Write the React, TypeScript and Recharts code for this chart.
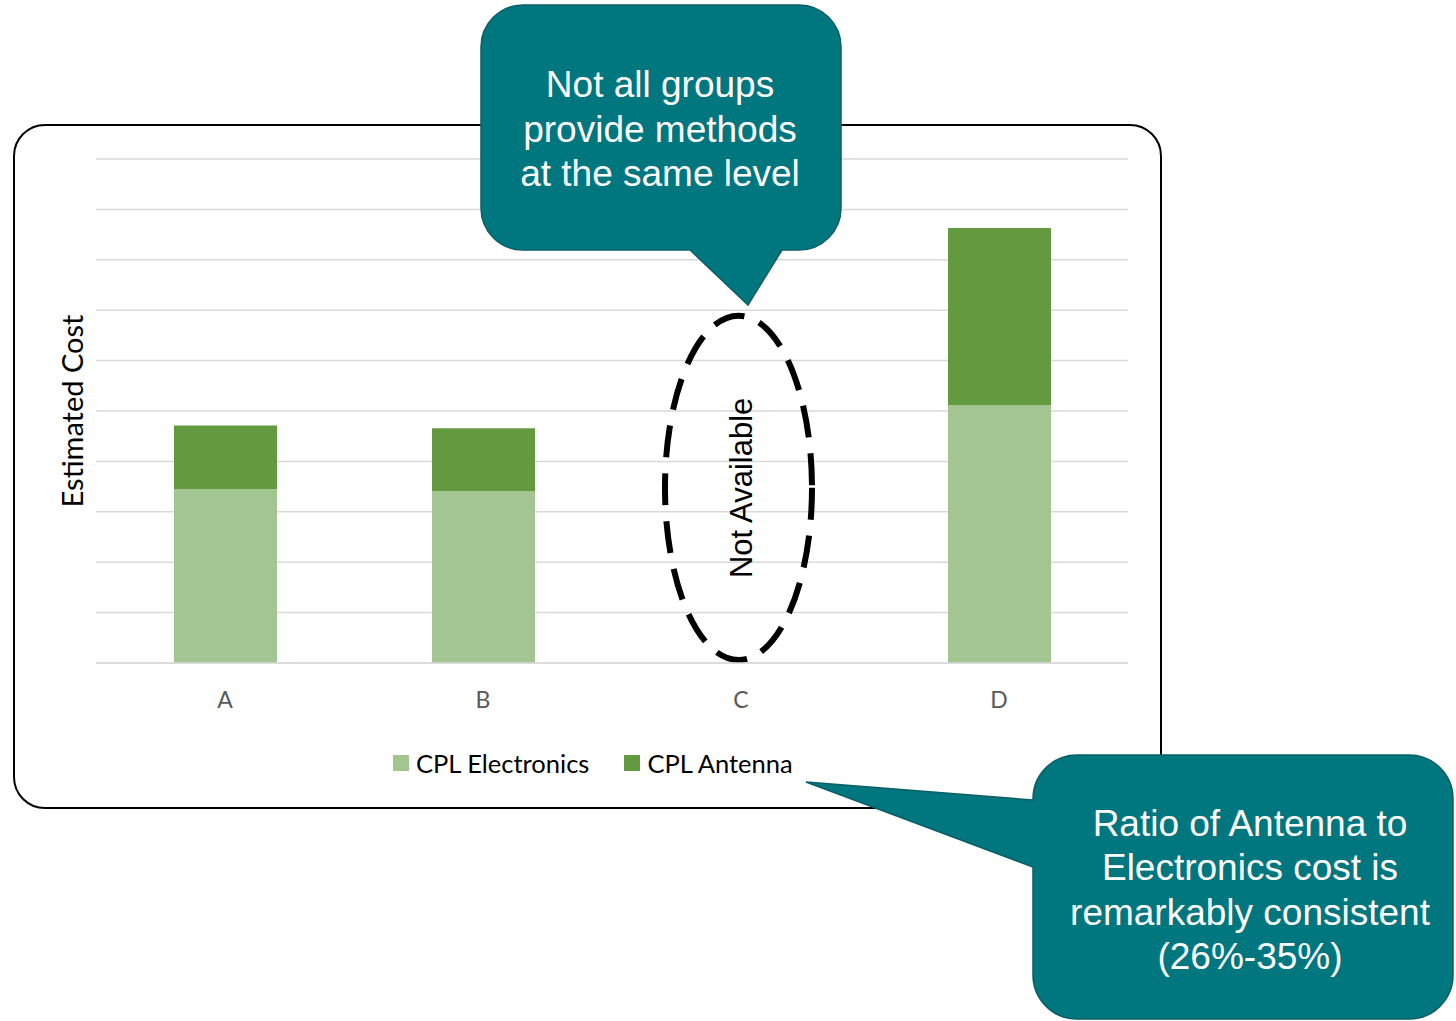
import React from 'react';
import {
  BarChart,
  Bar,
  XAxis,
  YAxis,
  CartesianGrid,
  Legend,
  ReferenceArea,
} from 'recharts';

const groups = ['A', 'B', 'C', 'D'];
const electronicsCost = [3.45, 3.41, null, 5.12];
const antennaCost = [1.26, 1.25, null, 3.51];
const costTicks = [0, 1, 2, 3, 4, 5, 6, 7, 8, 9, 10];
const seriesNames = ['CPL Electronics', 'CPL Antenna'];

// group C has no estimate; the dashed ring spans this cost range
const missingGroup = 'C';
const missingRange = [0, 6.95];

const topNote = ['Not all groups', 'provide methods', 'at the same level'];
const sideNote = ['Ratio of Antenna to', 'Electronics cost is', 'remarkably consistent', '(26%-35%)'];

const data = groups.map((group, i) => ({
  group,
  electronics: electronicsCost[i],
  antenna: antennaCost[i],
}));

const W = 1456;
const H = 1021;
const TEAL = '#00767f';
const LIGHT = '#a3c592';
const DARK = '#639a3f';
const LABEL_FONT = 'Lato, "Open Sans", sans-serif';
const NOTE_FONT = '"Liberation Sans", Arial, sans-serif';

// rounded box with a pointer; the tail leaves the box edge between two points
function calloutPath(x0: number, y0: number, x1: number, y1: number, r: number, tail: string, side: 'bottom' | 'left') {
  const parts = [`M${x0 + r},${y0}`, `H${x1 - r}`, `A${r},${r} 0 0 1 ${x1},${y0 + r}`, `V${y1 - r}`, `A${r},${r} 0 0 1 ${x1 - r},${y1}`];
  if (side === 'bottom') parts.push(tail);
  parts.push(`H${x0 + r}`, `A${r},${r} 0 0 1 ${x0},${y1 - r}`);
  if (side === 'left') parts.push(tail);
  parts.push(`V${y0 + r}`, `A${r},${r} 0 0 1 ${x0 + r},${y0}`, 'Z');
  return parts.join(' ');
}

// y ticks stay in place for the grid but print nothing
const NoTick = () => <g />;

const MissingMark = (props: any) => {
  const { x, y, width, height } = props;
  const cx = x + width / 2 - 2.5;
  const cy = y + height / 2;
  return (
    <g>
      <ellipse
        cx={cx}
        cy={cy}
        rx={73.5}
        ry={height / 2 - 3}
        fill="none"
        stroke="#000"
        strokeWidth={6}
        strokeDasharray="32 16"
      />
      <text
        x={cx + 14}
        y={cy}
        transform={`rotate(-90, ${cx + 14}, ${cy})`}
        textAnchor="middle"
        fontFamily={NOTE_FONT}
        fontSize={31}
        fill="#000"
      >
        Not Available
      </text>
    </g>
  );
};

const LegendContent = (props: any) => {
  const items = [...(props.payload || [])].sort(
    (a: any, b: any) => seriesNames.indexOf(a.value) - seriesNames.indexOf(b.value)
  );
  return (
    <div style={{ display: 'flex', fontFamily: LABEL_FONT, fontSize: 25.5, color: '#000', whiteSpace: 'nowrap' }}>
      {items.map((p: any) => (
        <div key={p.value} style={{ display: 'flex', alignItems: 'center', marginRight: 35 }}>
          <span style={{ width: 16, height: 16, background: p.color, marginRight: 7, display: 'inline-block' }} />
          <span>{p.value}</span>
        </div>
      ))}
    </div>
  );
};

export default function App() {
  return (
    <div style={{ position: 'absolute', left: 0, top: 0, width: W, height: H, background: '#fff', overflow: 'hidden' }}>
      <div
        style={{
          position: 'absolute',
          left: 13,
          top: 124,
          width: 1149,
          height: 685,
          boxSizing: 'border-box',
          border: '2px solid #000',
          borderRadius: 32,
        }}
      />
      <div style={{ position: 'absolute', left: 0, top: 0 }}>
        <BarChart width={W} height={H} data={data} margin={{ top: 159, right: 328, bottom: 328, left: 50 }}>
          <CartesianGrid vertical={false} stroke="#d9d9d9" strokeWidth={1.5} />
          <XAxis
            dataKey="group"
            tickLine={false}
            axisLine={{ stroke: '#d9d9d9', strokeWidth: 1.5 }}
            tickMargin={23}
            tick={{ fill: '#595959', fontSize: 23, fontFamily: LABEL_FONT }}
          />
          <YAxis
            width={46}
            domain={[0, 10]}
            ticks={costTicks}
            interval={0}
            tick={<NoTick />}
            axisLine={false}
            tickLine={false}
            label={{
              value: 'Estimated Cost',
              angle: -90,
              position: 'center',
              fill: '#000',
              fontSize: 29,
              fontFamily: LABEL_FONT,
            }}
          />
          <Legend
            layout="horizontal"
            verticalAlign="middle"
            align="center"
            content={<LegendContent />}
            wrapperStyle={{ left: 393, top: 748, width: 'auto' }}
          />
          <Bar dataKey="electronics" name={seriesNames[0]} stackId="cost" fill={LIGHT} barSize={103} isAnimationActive={false} />
          <Bar dataKey="antenna" name={seriesNames[1]} stackId="cost" fill={DARK} barSize={103} isAnimationActive={false} />
          <ReferenceArea
            x1={missingGroup}
            x2={missingGroup}
            y1={missingRange[0]}
            y2={missingRange[1]}
            shape={<MissingMark />}
          />
        </BarChart>
      </div>
      <svg width={W} height={H} style={{ position: 'absolute', left: 0, top: 0, pointerEvents: 'none' }}>
        <path
          d={calloutPath(481, 5, 841, 250, 42, 'H782 L748,305 L690,250', 'bottom')}
          fill={TEAL}
          stroke="#0a5f66"
          strokeWidth={1.5}
        />
        <text fontFamily={NOTE_FONT} fontSize={37} fill="#fff" textAnchor="middle">
          {topNote.map((line, i) => (
            <tspan key={line} x={660} y={97 + i * 44.5}>
              {line}
            </tspan>
          ))}
        </text>
        <path
          d={calloutPath(1033, 755, 1453, 1019, 44, 'L1033,867 L806,782 L1033,800', 'left')}
          fill={TEAL}
          stroke="#0a5f66"
          strokeWidth={1.5}
        />
        <text fontFamily={NOTE_FONT} fontSize={37} fill="#fff" textAnchor="middle">
          {sideNote.map((line, i) => (
            <tspan key={line} x={1250} y={836 + i * 44.3}>
              {line}
            </tspan>
          ))}
        </text>
      </svg>
    </div>
  );
}
